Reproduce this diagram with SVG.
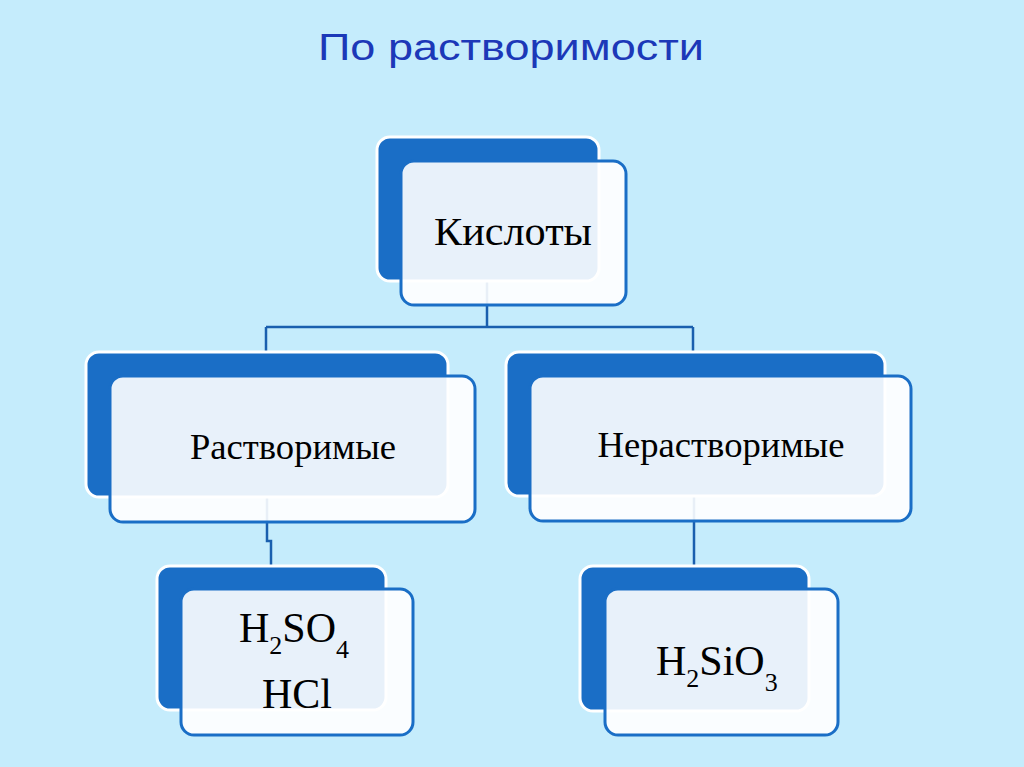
<svg xmlns="http://www.w3.org/2000/svg" width="1024" height="767" viewBox="0 0 1024 767">
<style>
.back{fill:#1a6ec6;stroke:#ffffff;stroke-width:3}
.front{fill:#ffffff;fill-opacity:0.9;stroke:#1a6ec6;stroke-width:3}
.lbl{font-family:"Liberation Serif",serif;fill:#000000;text-anchor:middle}
.chem{font-family:"Liberation Serif",serif;fill:#000000;text-anchor:start}
.conn{fill:none;stroke:#1a5fae;stroke-width:2.5}
</style>
<rect width="1024" height="767" fill="#c5ecfc"/>
<text x="318" y="60" font-family="Liberation Sans, Arial, sans-serif" font-size="37" fill="#1c38b8" textLength="386" lengthAdjust="spacingAndGlyphs">По растворимости</text>
<g id="connectors">
<path class="conn" d="M487 280 V327 M266 327 H693 M266 327 V352 M693 327 V352"/>
<path class="conn" d="M267 497 V541 H271 V566"/>
<path class="conn" d="M694 496 V566"/>
</g>
<g id="node-kisloty">
<rect class="back" x="377" y="137" width="222" height="144" rx="13"/>
<rect class="front" x="401" y="161" width="225" height="144" rx="13"/>
<text class="lbl" x="513" y="245" font-size="41" textLength="158" lengthAdjust="spacingAndGlyphs">Кислоты</text>
</g>
<g id="node-rastvorimye">
<rect class="back" x="86" y="352" width="362" height="145" rx="13"/>
<rect class="front" x="110" y="376" width="365" height="146" rx="13"/>
<text class="lbl" x="293" y="459" font-size="36" textLength="206" lengthAdjust="spacingAndGlyphs">Растворимые</text>
</g>
<g id="node-nerastvorimye">
<rect class="back" x="506" y="352" width="379" height="144" rx="13"/>
<rect class="front" x="530" y="376" width="381" height="145" rx="13"/>
<text class="lbl" x="721" y="457" font-size="36" textLength="247" lengthAdjust="spacingAndGlyphs">Нерастворимые</text>
</g>
<g id="node-h2so4">
<rect class="back" x="157" y="566" width="229" height="144" rx="13"/>
<rect class="front" x="181" y="589" width="232" height="146" rx="13"/>
<text class="chem" x="239" y="642" font-size="42">H<tspan font-size="26" dy="12">2</tspan><tspan dy="-12">SO</tspan><tspan font-size="26" dy="16">4</tspan></text>
<text class="lbl" x="297" y="708" font-size="42">HCl</text>
</g>
<g id="node-h2sio3">
<rect class="back" x="580" y="566" width="229" height="145" rx="13"/>
<rect class="front" x="605" y="589" width="233" height="146" rx="13"/>
<text class="chem" x="656" y="675" font-size="42">H<tspan font-size="26" dy="12">2</tspan><tspan dy="-12">SiO</tspan><tspan font-size="26" dy="16">3</tspan></text>
</g>
</svg>
